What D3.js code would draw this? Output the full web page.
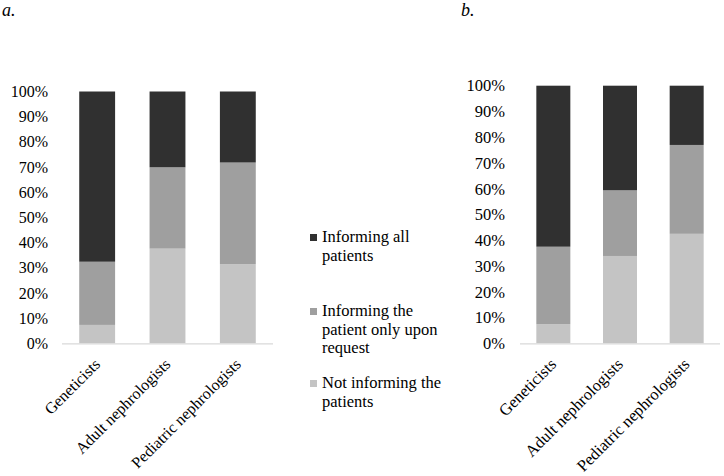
<!DOCTYPE html>
<html>
<head>
<meta charset="utf-8">
<script src="https://cdn.jsdelivr.net/npm/d3@7"></script>
<style>
  body { margin: 0; background: #fff; }
  text { font-family: "Liberation Serif", "Times New Roman", serif; fill: #000; }
</style>
</head>
<body>
<div id="chart"></div>
<script>
const categories = ["Geneticists", "Adult nephrologists", "Pediatric nephrologists"];
const seriesNames = ["Not informing the patients", "Informing the patient only upon request", "Informing all patients"];
const seriesColors = ["#c4c4c4", "#9f9f9f", "#303030"];
const yTicks = [0, 10, 20, 30, 40, 50, 60, 70, 80, 90, 100];

// percent per category, in series order (not informing, upon request, all)
const panelA = [
  [7.3, 25.1, 67.6],
  [37.6, 32.3, 30.1],
  [31.4, 40.4, 28.2]
];
const panelB = [
  [7.4, 30.1, 62.5],
  [33.9, 25.5, 40.6],
  [42.5, 34.5, 23.0]
];

const width = 724;
const height = 476;

const svg = d3.select("#chart")
  .append("svg")
  .attr("width", width)
  .attr("height", height);

function drawPanel(values, opts) {
  const g = svg.append("g");

  const x = d3.scaleBand()
    .domain(categories)
    .range([opts.left, opts.right])
    .paddingInner(0.49)
    .paddingOuter(0.245);

  const y = d3.scaleLinear()
    .domain([0, 100])
    .range([opts.bottom, opts.top]);

  const rows = values.map((v, i) => {
    const r = {cat: categories[i]};
    seriesNames.forEach((s, j) => r[s] = v[j]);
    return r;
  });
  const stacked = d3.stack().keys(seriesNames)(rows);

  g.selectAll("g.series")
    .data(stacked)
    .join("g")
    .attr("fill", (d, i) => seriesColors[i])
    .selectAll("rect")
    .data(d => d)
    .join("rect")
    .attr("x", d => x(d.data.cat))
    .attr("width", x.bandwidth())
    .attr("y", d => y(d[1]))
    .attr("height", d => y(d[0]) - y(d[1]));

  // y axis, no line, no ticks
  g.append("g")
    .attr("transform", `translate(${opts.left},0)`)
    .call(d3.axisLeft(y).tickValues(yTicks).tickFormat(d => d + "%").tickSize(0).tickPadding(opts.labelPad))
    .call(g => g.select(".domain").remove())
    .call(g => g.selectAll("text")
      .attr("font-size", opts.fontSize)
      .attr("font-family", "Liberation Serif, Times New Roman, serif")
      .attr("fill", "#000"));

  // category axis
  g.append("g")
    .attr("transform", `translate(0,${opts.bottom})`)
    .call(d3.axisBottom(x).tickSize(0).tickFormat(""))
    .call(g => g.select(".domain").attr("stroke", "#d9d9d9").attr("stroke-width", 1.2)
      .attr("d", `M${opts.left},0.5H${opts.right}`));

  g.selectAll("text.cat")
    .data(categories)
    .join("text")
    .attr("class", "cat")
    .attr("font-size", opts.fontSize)
    .attr("text-anchor", "end")
    .attr("transform", d => `translate(${x(d) + x.bandwidth() / 2 + 4},${opts.bottom + 22}) rotate(-45)`)
    .text(d => d);

  svg.append("text")
    .attr("x", opts.titleX)
    .attr("y", 16)
    .attr("font-size", 18)
    .attr("font-style", "italic")
    .text(opts.title);
}

drawPanel(panelA, {left: 62, right: 273, top: 91.5, bottom: 343.3, labelPad: 14, fontSize: 16, title: "a.", titleX: 2});
drawPanel(panelB, {left: 520, right: 720, top: 85.7, bottom: 343.3, labelPad: 15, fontSize: 16.5, title: "b.", titleX: 461});

// legend (top series first)
const legendItems = seriesNames.map((s, i) => ({name: s, color: seriesColors[i]})).reverse();
const legendY = [242, 316, 388];
const legendX = 310;
const lineH = 18.6;

const legend = svg.append("g");
legendItems.forEach((item, i) => {
  const lg = legend.append("g");
  lg.append("rect")
    .attr("x", legendX)
    .attr("y", legendY[i] - 8)
    .attr("width", 7)
    .attr("height", 7)
    .attr("fill", item.color);

  const t = lg.append("text")
    .attr("x", legendX + 12)
    .attr("y", legendY[i])
    .attr("font-size", 16.5);

  // wrap words into lines of max 132px
  const words = item.name.split(" ");
  let line = [];
  let n = 0;
  let tspan = t.append("tspan").attr("x", legendX + 12).attr("dy", 0);
  words.forEach(w => {
    line.push(w);
    tspan.text(line.join(" "));
    if (tspan.node().getComputedTextLength() > 132 && line.length > 1) {
      line.pop();
      tspan.text(line.join(" "));
      line = [w];
      n++;
      tspan = t.append("tspan").attr("x", legendX + 12).attr("dy", lineH).text(w);
    }
  });
});
</script>
</body>
</html>
